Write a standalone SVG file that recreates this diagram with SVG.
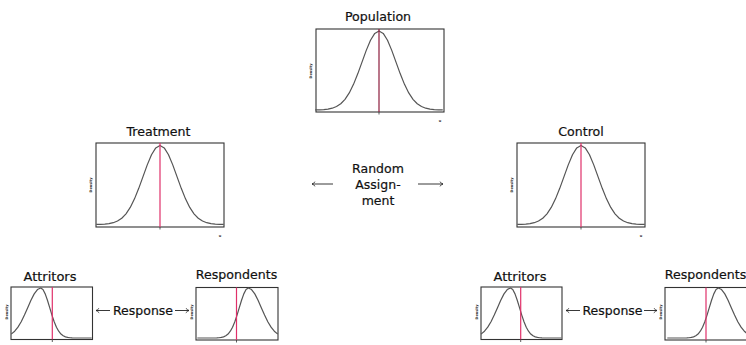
<svg xmlns="http://www.w3.org/2000/svg" xmlns:xlink="http://www.w3.org/1999/xlink" width="746" height="345" viewBox="0 0 746 345">
<style>
text{font-family:"DejaVu Sans","Liberation Sans",sans-serif;fill:#111;stroke:#111;stroke-width:0.2}
.t{font-size:12.6px;text-anchor:middle}
.ta{font-size:13px;text-anchor:middle}
.lab{font-size:12.5px;text-anchor:middle}
.box{fill:#fff;stroke:#333;stroke-width:1.1}
.crv{fill:none;stroke:#555;stroke-width:1.2;stroke-linejoin:round}
.red1{stroke:#8c1c3c;stroke-width:1.2}
.red2{stroke:#e0306a;stroke-width:1.2}
.tick{stroke:#333;stroke-width:0.8}
.tiny{font-size:3.5px;fill:#333;stroke:none;font-weight:bold;text-anchor:middle}
.conn{stroke:#222;stroke-width:0.9;fill:none}
</style>
<defs>
<polyline id="big" class="crv" points="-63.75,-0.07 -59.5,-0.17 -55.25,-0.40 -51,-0.88 -46.75,-1.80 -42.5,-3.47 -38.25,-6.29 -34,-10.69 -29.75,-17.09 -25.5,-25.65 -21.25,-36.17 -17,-47.91 -12.75,-59.63 -8.5,-69.72 -4.25,-76.57 0,-79 4.25,-76.57 8.5,-69.72 12.75,-59.63 17,-47.91 21.25,-36.17 25.5,-25.65 29.75,-17.09 34,-10.69 38.25,-6.29 42.5,-3.47 46.75,-1.80 51,-0.88 55.25,-0.40 59.5,-0.17 63.75,-0.07"/>
<polyline id="small" class="crv" points="-29.5,-3.9 -26,-6.77 -22.75,-10.82 -19.5,-16.24 -16.25,-22.89 -13,-30.33 -9.75,-37.74 -6.5,-44.13 -3.25,-48.46 0,-50 2.25,-48.46 4.5,-44.13 6.75,-37.74 9,-30.33 11.25,-22.89 13.5,-16.24 15.75,-10.82 18,-6.77 20.25,-3.98 22.5,-2.2 24.75,-1.14 27,-0.56 29.25,-0.26 31.5,-0.11 36,-0.02 51,0"/>
<marker id="ah" viewBox="-4 -3 5 6" refX="0" refY="0" markerWidth="5" markerHeight="6" markerUnits="userSpaceOnUse" orient="auto">
<path d="M-3.2,-2.3 Q-1.2,-0.4 0,0 Q-1.2,0.4 -3.2,2.3" fill="none" stroke="#222" stroke-width="0.8"/>
</marker>
</defs>

<g id="population">
<text class="t" x="378" y="21">Population</text>
<rect class="box" x="316" y="29" width="128" height="83"/>
<use xlink:href="#big" transform="translate(379,110)"/>
<line class="red1" x1="379" y1="29" x2="379" y2="112"/>
<line class="tick" x1="379" y1="112" x2="379" y2="114.5"/>
<text class="tiny" transform="translate(312,71) rotate(-90)">Density</text>
<text class="tiny" x="440" y="122">u</text>
</g>

<g id="treatment">
<text class="t" x="158.5" y="136">Treatment</text>
<rect class="box" x="96" y="143" width="128" height="84"/>
<use xlink:href="#big" transform="translate(160,224.5)"/>
<line class="red2" x1="160" y1="143" x2="160" y2="227"/>
<line class="tick" x1="160" y1="227" x2="160" y2="229.5"/>
<text class="tiny" transform="translate(92,185) rotate(-90)">Density</text>
<text class="tiny" x="220" y="237">u</text>
</g>

<g id="control">
<text class="t" x="581" y="136">Control</text>
<rect class="box" x="517" y="143" width="128" height="84"/>
<use xlink:href="#big" transform="translate(581,224.5)"/>
<line class="red2" x1="581" y1="143" x2="581" y2="227"/>
<line class="tick" x1="581" y1="227" x2="581" y2="229.5"/>
<text class="tiny" transform="translate(513,185) rotate(-90)">Density</text>
<text class="tiny" x="641" y="237">u</text>
</g>

<g id="random-assignment">
<text class="lab" x="378" y="173">Random</text>
<text class="lab" x="378" y="189">Assign-</text>
<text class="lab" x="378" y="205">ment</text>
</g>

<g id="attritors-left">
<text class="ta" x="50" y="281">Attritors</text>
<rect class="box" x="11" y="287" width="81.5" height="52.5"/>
<use xlink:href="#small" transform="translate(40.7,338)"/>
<line class="red2" x1="52.3" y1="287" x2="52.3" y2="339.5"/>
<line class="tick" x1="52.3" y1="339.5" x2="52.3" y2="342"/>
<text class="tiny" transform="translate(8,312) rotate(-90)">Density</text>
</g>

<g id="respondents-left">
<text class="t" x="236.5" y="279">Respondents</text>
<rect class="box" x="196" y="287.5" width="82" height="52.5"/>
<use xlink:href="#small" transform="translate(248.3,338) scale(-1,1)"/>
<line class="red2" x1="236.5" y1="287.5" x2="236.5" y2="340"/>
<line class="tick" x1="236.5" y1="340" x2="236.5" y2="342.5"/>
<text class="tiny" transform="translate(193,312) rotate(-90)">Density</text>
</g>

<g id="response-left">
<text class="lab" x="143" y="315">Response</text>
</g>

<g id="attritors-right">
<text class="ta" x="520" y="281">Attritors</text>
<rect class="box" x="481" y="287" width="81" height="52.5"/>
<use xlink:href="#small" transform="translate(510.5,338)"/>
<line class="red2" x1="520.7" y1="287" x2="520.7" y2="339.5"/>
<line class="tick" x1="520.7" y1="339.5" x2="520.7" y2="342"/>
<text class="tiny" transform="translate(478,312) rotate(-90)">Density</text>
</g>

<g id="respondents-right">
<text class="t" x="705.5" y="279">Respondents</text>
<rect class="box" x="665" y="287.5" width="82" height="52.5"/>
<use xlink:href="#small" transform="translate(718.3,338) scale(-1,1)"/>
<line class="red2" x1="706" y1="287.5" x2="706" y2="340"/>
<line class="tick" x1="706" y1="340" x2="706" y2="342.5"/>
<text class="tiny" transform="translate(662,312) rotate(-90)">Density</text>
</g>

<g id="response-right">
<text class="lab" x="612.5" y="315">Response</text>
</g>

<g id="connectors">
<line class="conn" x1="333" y1="184" x2="312" y2="184" marker-end="url(#ah)"/>
<line class="conn" x1="418" y1="184" x2="443" y2="184" marker-end="url(#ah)"/>
<line class="conn" x1="110" y1="310.5" x2="96" y2="310.5" marker-end="url(#ah)"/>
<line class="conn" x1="175" y1="310.5" x2="189" y2="310.5" marker-end="url(#ah)"/>
<line class="conn" x1="580" y1="310.5" x2="566" y2="310.5" marker-end="url(#ah)"/>
<line class="conn" x1="644" y1="310.5" x2="657" y2="310.5" marker-end="url(#ah)"/>
</g>
</svg>
